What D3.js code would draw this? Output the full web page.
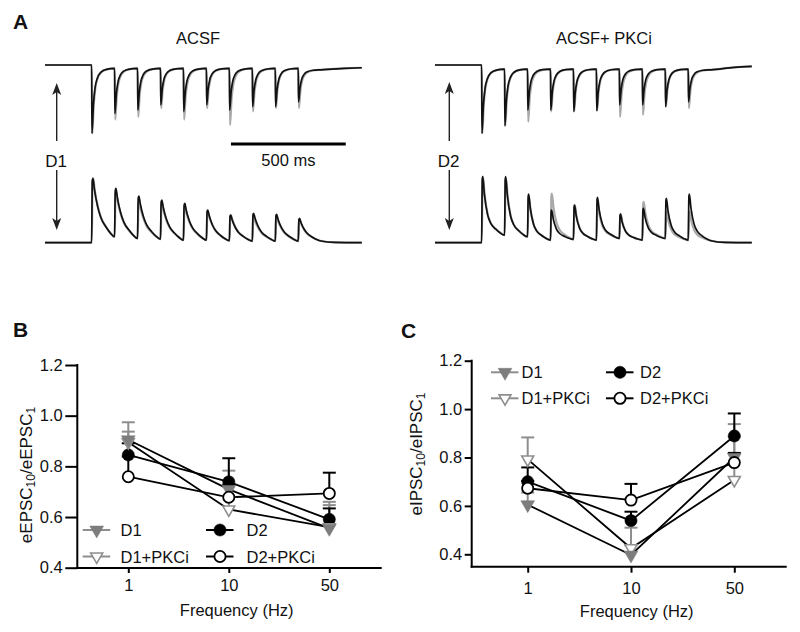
<!DOCTYPE html>
<html><head><meta charset="utf-8">
<script src="https://cdn.jsdelivr.net/npm/d3@7"></script>
<style>
body{margin:0;background:#fff}
svg{display:block}
text{font-family:"Liberation Sans",Arial,Helvetica,sans-serif;fill:#111}
</style>
</head><body>
<svg id="fig" width="800" height="632"></svg>
<script>
// ---------------- DATA ----------------
// Panel A: stimulus times (ms) of the 10 Hz train
const stimTimes = [0, 100, 200, 300, 400, 500, 600, 700, 800, 900];
// Normalised peak amplitudes (first response = 1)
const epscAcsfBlack = [1.0, 0.71, 0.66, 0.585, 0.68, 0.585, 0.66, 0.61, 0.61, 0.54];
const epscAcsfGray  = [1.0, 0.80, 0.76, 0.63, 0.80, 0.63, 0.88, 0.68, 0.63, 0.63];
const epscPkciBlack = [1.0, 0.89, 0.66, 0.66, 0.68, 0.67, 0.585, 0.585, 0.61, 0.54];
const epscPkciGray  = [1.0, 0.89, 0.83, 0.68, 0.68, 0.67, 0.76, 0.73, 0.61, 0.63];
const ipscAcsfBlack = [1.0, 0.845, 0.725, 0.663, 0.611, 0.508, 0.43, 0.456, 0.44, 0.378];
const ipscAcsfGray  = [1.0, 0.79, 0.64, 0.61, 0.56, 0.48, 0.43, 0.40, 0.40, 0.35];
const ipscPkciBlack = [1.0, 1.0, 0.737, 0.495, 0.571, 0.687, 0.434, 0.52, 0.672, 0.737];
const ipscPkciGray  = [1.0, 0.98, 0.70, 0.745, 0.57, 0.60, 0.43, 0.62, 0.47, 0.47];
// residual level at the end of each inter-stimulus interval
const epscAcsfEnds = [0.05, 0.05, 0.05, 0.05, 0.05, 0.05, 0.05, 0.05, 0.05, 0.07];
const epscPkciEnds = [0.06, 0.06, 0.06, 0.06, 0.06, 0.06, 0.06, 0.06, 0.06, 0.07];
const ipscAcsfEnds = [0.093, 0.067, 0.057, 0.041, 0.041, 0.031, 0.026, 0.026, 0.026, 0.026];
const ipscPkciEnds = [0.116, 0.09, 0.04, 0.05, 0.04, 0.065, 0.04, 0.065, 0.04, 0.03];
// decay time course: [delay ms, fraction of (peak-residual)]
const epscDecay     = [[1.5, 1], [8, 0.55], [15, 0.3], [25, 0.15], [40, 0.06], [65, 0.015], [99, 0]];
const ipscAcsfDecay = [[3, 0.95], [6, 1], [12, 0.82], [26, 0.52], [40, 0.33], [62, 0.17], [80, 0.07], [99, 0]];
const ipscPkciDecay = [[3, 0.95], [5, 1], [12, 0.7], [26, 0.35], [40, 0.2], [62, 0.1], [80, 0.04], [99, 0]];
// trace end levels after the train: [time ms, level]
const epscAcsfTail = [[1100, 0.05], [1177, 0.04]];
const epscPkciTail = [[1100, 0.035], [1177, 0.02]];
const ipscTail     = [[1060, 0.005], [1177, 0]];
const traceStart = -203, traceEnd = 1177;
const scaleBarMs = 500, scaleBarStartMs = 607;

// Panels B and C
const freqLabels = ["1", "10", "50"];
const yTickValues = [0.4, 0.6, 0.8, 1.0, 1.2];
const seriesNames = ["D1", "D1+PKCi", "D2", "D2+PKCi"];
// B: eEPSC10/eEPSC1
const bD1 = [0.905, 0.709, 0.555],  bD1Err = [0.032, 0.074, 0.092];
const bD1P = [0.895, 0.630, 0.560], bD1PErr = [0.079, 0.05, 0.10];
const bD2 = [0.845, 0.739, 0.591],  bD2Err = [0.046, 0.093, 0.043];
const bD2P = [0.759, 0.678, 0.693], bD2PErr = [0.08, 0.05, 0.082];
// C: eIPSC10/eIPSC1
const cD1 = [0.605, 0.397, 0.800],  cD1Err = [0.05, 0.04, 0.138];
const cD1P = [0.792, 0.425, 0.707], cD1PErr = [0.091, 0.085, 0.179];
const cD2 = [0.700, 0.539, 0.889],  cD2Err = [0.059, 0.037, 0.093];
const cD2P = [0.673, 0.624, 0.779], cD2PErr = [0.03, 0.067, 0.04];

// ---------------- DRAW ----------------
const svg = d3.select("#fig");
const FONT = '"Liberation Sans",Arial,Helvetica,sans-serif';
const GRAY = "#7d7d7d", LGRAY = "#8e8e8e";

function label(x, y, txt, size, opts = {}) {
  return svg.append("text").attr("x", x).attr("y", y)
    .attr("font-size", size).attr("text-anchor", opts.anchor || "start")
    .attr("font-weight", opts.bold ? "bold" : "normal").text(txt);
}

// ----- Panel A -----
label(13, 28.5, "A", 21, {bold: true});
label(198, 43.5, "ACSF", 16.5, {anchor: "middle"});
label(604, 43.5, "ACSF+ PKCi", 16.5, {anchor: "middle"});

function buildTrace(peaks, ends, decay, tail, shift) {
  const pts = [[traceStart, 0], [stimTimes[0] + shift, 0]];
  peaks.forEach((p, i) => {
    const t0 = stimTimes[i] + shift;
    if (i > 0) pts.push([t0, ends[i - 1]]);
    decay.forEach(([d, f]) => pts.push([t0 + d, ends[i] + (p - ends[i]) * f]));
  });
  tail.forEach(pt => pts.push(pt));
  return pts;
}

function drawTraces(xRange, yRange, gray, black, ends, decay, tail, gshift) {
  const x = d3.scaleLinear().domain([traceStart, traceEnd]).range(xRange);
  const y = d3.scaleLinear().domain([0, 1]).range(yRange);
  const line = d3.line().x(d => x(d[0])).y(d => y(d[1])).curve(d3.curveMonotoneX);
  svg.append("path").attr("d", line(buildTrace(gray, ends, decay, tail, gshift)))
    .attr("fill", "none").attr("stroke", "#a9a9a9").attr("stroke-width", 2.2).attr("stroke-linejoin", "round");
  svg.append("path").attr("d", line(buildTrace(black, ends, decay, tail, 0)))
    .attr("fill", "none").attr("stroke", "#111").attr("stroke-width", 1.7).attr("stroke-linejoin", "round");
  return x;
}

const xAL = drawTraces([45, 361.8], [65, 133.3], epscAcsfGray, epscAcsfBlack, epscAcsfEnds, epscDecay, epscAcsfTail, 1.5);
drawTraces([45, 361.8], [242.7, 178.3], ipscAcsfGray, ipscAcsfBlack, ipscAcsfEnds, ipscAcsfDecay, ipscTail, 1);
drawTraces([435, 751.8], [65, 133.3], epscPkciGray, epscPkciBlack, epscPkciEnds, epscDecay, epscPkciTail, 1.5);
drawTraces([435, 751.8], [242.7, 176.7], ipscPkciGray, ipscPkciBlack, ipscPkciEnds, ipscPkciDecay, ipscTail, 1);

// scale bar
svg.append("line").attr("x1", xAL(scaleBarStartMs)).attr("x2", xAL(scaleBarStartMs + scaleBarMs))
  .attr("y1", 144).attr("y2", 144).attr("stroke", "#000").attr("stroke-width", 3);
label((xAL(scaleBarStartMs) + xAL(scaleBarStartMs + scaleBarMs)) / 2, 165.5, scaleBarMs + " ms", 16.5, {anchor: "middle"});

// arrows
function arrow(x, y1, y2) {
  const dir = y2 < y1 ? -1 : 1;
  svg.append("line").attr("x1", x).attr("x2", x).attr("y1", y1).attr("y2", y2 - dir * 9)
    .attr("stroke", "#222").attr("stroke-width", 1.4);
  svg.append("path").attr("d", `M${x},${y2} L${x - 4.5},${y2 - dir * 12} L${x},${y2 - dir * 9} L${x + 4.5},${y2 - dir * 12} Z`)
    .attr("fill", "#222");
}
arrow(56.7, 141, 83);
arrow(56.7, 170, 230);
label(56, 167, "D1", 17, {anchor: "middle"});
arrow(449.3, 141, 82);
arrow(449.3, 170, 230);
label(448.5, 167, "D2", 17, {anchor: "middle"});

// ----- Panels B & C -----
const styles = {
  "D1":      {shape: "tri", fill: GRAY, stroke: GRAY, err: LGRAY},
  "D1+PKCi": {shape: "tri", fill: "#fff", stroke: LGRAY, err: LGRAY},
  "D2":      {shape: "circ", fill: "#000", stroke: "#000", err: "#000"},
  "D2+PKCi": {shape: "circ", fill: "#fff", stroke: "#000", err: "#000"}
};

function marker(g, name, cx, cy) {
  const s = styles[name];
  if (s.shape === "tri") {
    const open = s.fill === "#fff";
    g.append("path")
      .attr("d", d3.symbol(d3.symbolTriangle, open ? 62 : 82)())
      .attr("transform", `translate(${cx},${cy}) rotate(180)`)
      .attr("fill", s.fill).attr("stroke", s.stroke).attr("stroke-width", open ? 1.6 : 0.5)
      .attr("stroke-linejoin", "miter");
  } else {
    const open = s.fill === "#fff";
    g.append("circle").attr("cx", cx).attr("cy", cy).attr("r", open ? 5.6 : 6.1)
      .attr("fill", s.fill).attr("stroke", s.stroke).attr("stroke-width", open ? 1.8 : 0.5);
  }
}

function drawPanel(p) {
  const g = svg.append("g");
  const x = d3.scalePoint().domain(freqLabels).range(p.xr);
  const y = d3.scaleLinear().domain([0.4, 1.2]).range(p.yr);

  label(p.letterX, p.letterY, p.letter, 21, {bold: true});

  // y axis
  const ya = g.append("g").attr("transform", `translate(${p.axX},0)`)
    .call(d3.axisLeft(y).tickValues(yTickValues).tickFormat(d3.format(".1f"))
      .tickSize(p.ytick).tickPadding(2.5));
  ya.select(".domain").remove();
  ya.selectAll("line").attr("stroke", "#000").attr("stroke-width", 2);
  ya.selectAll("text").attr("font-size", 16.5).attr("font-family", FONT).attr("fill", "#111");
  g.append("line").attr("x1", p.axX).attr("x2", p.axX).attr("y1", y(1.2) - 1).attr("y2", p.axY + 1)
    .attr("stroke", "#000").attr("stroke-width", 2);

  // x axis
  const xa = g.append("g").attr("transform", `translate(0,${p.axY})`)
    .call(d3.axisBottom(x).tickSize(p.xtick).tickPadding(p.xpad));
  xa.select(".domain").remove();
  xa.selectAll("line").attr("stroke", "#000").attr("stroke-width", 2);
  xa.selectAll("text").attr("font-size", 16.5).attr("font-family", FONT).attr("fill", "#111");
  g.append("line").attr("x1", p.axX - 1).attr("x2", p.xEnd).attr("y1", p.axY).attr("y2", p.axY)
    .attr("stroke", "#000").attr("stroke-width", 2);

  label(p.titleX, p.titleY, "Frequency (Hz)", 16.5, {anchor: "middle"});

  // y label with subscripts
  const yl = svg.append("text").attr("transform", `translate(${p.ylX},${p.ylY}) rotate(-90)`)
    .attr("text-anchor", "middle").attr("font-size", 17);
  yl.append("tspan").text(p.ylab);
  yl.append("tspan").attr("font-size", 12).attr("dy", 3).text("10");
  yl.append("tspan").attr("dy", -3).text("/" + p.ylab);
  yl.append("tspan").attr("font-size", 12).attr("dy", 3).text("1");

  const line = d3.line().x((d, i) => x(freqLabels[i])).y(d => y(d));
  // connecting lines
  p.series.forEach(s => {
    g.append("path").attr("d", line(s.vals)).attr("fill", "none")
      .attr("stroke", "#000").attr("stroke-width", 1.8);
  });
  // error bars (upper)
  p.series.forEach(s => {
    s.vals.forEach((v, i) => {
      const cx = x(freqLabels[i]), top = y(v + s.err[i]);
      g.append("line").attr("x1", cx).attr("x2", cx).attr("y1", y(v)).attr("y2", top)
        .attr("stroke", styles[s.name].err).attr("stroke-width", 2);
      g.append("line").attr("x1", cx - 6.5).attr("x2", cx + 6.5).attr("y1", top).attr("y2", top)
        .attr("stroke", styles[s.name].err).attr("stroke-width", 2);
    });
  });
  // markers
  p.order.forEach(name => {
    const s = p.series.find(d => d.name === name);
    s.vals.forEach((v, i) => marker(g, name, x(freqLabels[i]), y(v)));
  });

  // legend
  const cols = [p.leg.c1, p.leg.c1, p.leg.c2, p.leg.c2];
  const rows = [p.leg.r1, p.leg.r2, p.leg.r1, p.leg.r2];
  seriesNames.forEach((name, i) => {
    const c = cols[i], r = rows[i];
    g.append("line").attr("x1", c.m - 14).attr("x2", c.m + 13.5).attr("y1", r).attr("y2", r)
      .attr("stroke", styles[name].err).attr("stroke-width", 2);
    marker(g, name, c.m, r);
    label(c.t, r + 6, name, 16.5);
  });
}

drawPanel({
  letter: "B", letterX: 13, letterY: 337,
  xr: [128.3, 329.3], yr: [567.7, 365], axX: 77.3, axY: 568, xEnd: 381.7,
  ytick: 12, xtick: 5, xpad: 6,
  titleX: 236.7, titleY: 616, ylX: 31.5, ylY: 475, ylab: "eEPSC",
  series: [
    {name: "D1", vals: bD1, err: bD1Err},
    {name: "D1+PKCi", vals: bD1P, err: bD1PErr},
    {name: "D2", vals: bD2, err: bD2Err},
    {name: "D2+PKCi", vals: bD2P, err: bD2PErr}
  ],
  order: ["D2", "D1+PKCi", "D1", "D2+PKCi"],
  leg: {c1: {m: 96.7, t: 120.5}, c2: {m: 220, t: 246.5}, r1: 530, r2: 556.5}
});

drawPanel({
  letter: "C", letterX: 401, letterY: 337.5,
  xr: [527.7, 734.3], yr: [554.3, 360.7], axX: 471.7, axY: 566.7, xEnd: 786.7,
  ytick: 7, xtick: 6, xpad: 9.5,
  titleX: 636.7, titleY: 617, ylX: 422, ylY: 454, ylab: "eIPSC",
  series: [
    {name: "D1", vals: cD1, err: cD1Err},
    {name: "D1+PKCi", vals: cD1P, err: cD1PErr},
    {name: "D2", vals: cD2, err: cD2Err},
    {name: "D2+PKCi", vals: cD2P, err: cD2PErr}
  ],
  order: ["D2", "D1+PKCi", "D1", "D2+PKCi"],
  leg: {c1: {m: 505, t: 521.5}, c2: {m: 620, t: 640}, r1: 372.3, r2: 398.3}
});
</script>
</body></html>
